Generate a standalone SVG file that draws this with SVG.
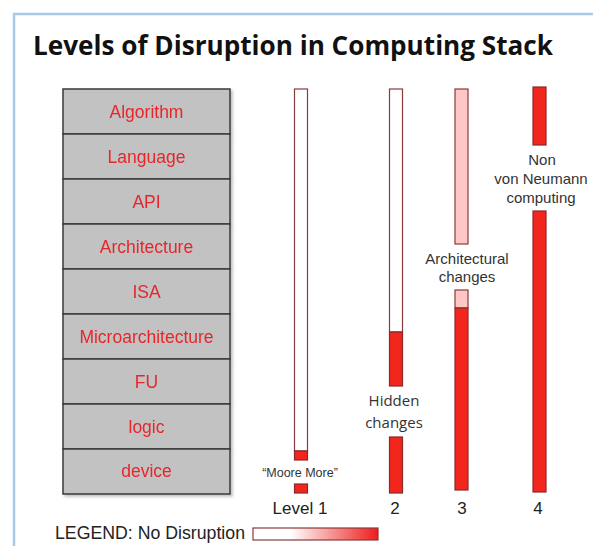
<svg xmlns="http://www.w3.org/2000/svg" width="593" height="546" viewBox="0 0 593 546">
<defs>
<style>
.cell{fill:#c2c2c2;stroke:#3a3a3a;stroke-width:1.5}
.cl{font-family:"Liberation Sans",Arial,sans-serif;font-size:17.5px;fill:#e8262c;text-anchor:middle}
.bw{fill:#ffffff;stroke:#8a3a3a;stroke-width:1.2}
.bp{fill:#ffc6c6;stroke:#8a3a3a;stroke-width:1.2}
.br{fill:#f2261c;stroke:#8a2a2a;stroke-width:1.2}
.lb{font-family:"Liberation Sans",Arial,sans-serif;font-size:15px;fill:#333;text-anchor:middle}
.lv{font-family:"Liberation Sans",Arial,sans-serif;font-size:17px;fill:#222;text-anchor:middle}
.lg{font-family:"Liberation Sans",Arial,sans-serif;font-size:17.5px;fill:#222;text-anchor:start}
</style>
<linearGradient id="lg" x1="0" y1="0" x2="1" y2="0">
<stop offset="0" stop-color="#ffffff"/>
<stop offset="0.3" stop-color="#ffffff"/>
<stop offset="1" stop-color="#ee1c1c"/>
</linearGradient>
<filter id="sh" x="-5%" y="-5%" width="115%" height="115%">
<feDropShadow dx="2" dy="2" stdDeviation="1.5" flood-color="#000" flood-opacity="0.25"/>
</filter>
</defs>
<rect width="593" height="546" fill="#fff"/>
<path d="M14,546 V14 H593" fill="none" stroke="#a9c9e9" stroke-width="2.5"/>
<text x="33" y="55" font-family="'Open Sans','Noto Sans',sans-serif" font-size="26" font-weight="bold" fill="#111" textLength="520" lengthAdjust="spacingAndGlyphs">Levels of Disruption in Computing Stack</text>

<g id="stack" filter="url(#sh)">
<g id="n-algorithm"><rect class="cell" x="63" y="89" width="167" height="45"/><text class="cl" x="146.5" y="118">Algorithm</text></g>
<g id="n-language"><rect class="cell" x="63" y="134" width="167" height="45"/><text class="cl" x="146.5" y="163">Language</text></g>
<g id="n-api"><rect class="cell" x="63" y="179" width="167" height="45"/><text class="cl" x="146.5" y="208">API</text></g>
<g id="n-architecture"><rect class="cell" x="63" y="224" width="167" height="45"/><text class="cl" x="146.5" y="253">Architecture</text></g>
<g id="n-isa"><rect class="cell" x="63" y="269" width="167" height="45"/><text class="cl" x="146.5" y="298">ISA</text></g>
<g id="n-micro"><rect class="cell" x="63" y="314" width="167" height="45"/><text class="cl" x="146.5" y="343">Microarchitecture</text></g>
<g id="n-fu"><rect class="cell" x="63" y="359" width="167" height="45"/><text class="cl" x="146.5" y="388">FU</text></g>
<g id="n-logic"><rect class="cell" x="63" y="404" width="167" height="45"/><text class="cl" x="146.5" y="433">logic</text></g>
<g id="n-device"><rect class="cell" x="63" y="449" width="167" height="45"/><text class="cl" x="146.5" y="477">device</text></g>
</g>

<g id="level1">
<rect class="bw" x="294.5" y="89" width="13" height="362"/>
<rect class="br" x="294.5" y="451" width="13" height="9"/>
<text x="300" y="477" font-family="'Liberation Sans',Arial,sans-serif" font-size="12.5" fill="#333" text-anchor="middle">“Moore More”</text>
<rect class="br" x="294.5" y="484" width="13" height="9"/>
<text class="lv" x="300" y="514">Level 1</text>
</g>

<g id="level2">
<rect class="bw" x="389.5" y="89" width="13" height="243"/>
<rect class="br" x="389.5" y="332" width="13" height="54"/>
<text x="394" y="406" font-family="'Open Sans','Noto Sans',sans-serif" font-size="15" fill="#333" text-anchor="middle">Hidden</text>
<text x="394" y="428" font-family="'Open Sans','Noto Sans',sans-serif" font-size="15" fill="#333" text-anchor="middle">changes</text>
<rect class="br" x="389.5" y="437" width="13" height="56"/>
<text class="lv" x="395" y="514">2</text>
</g>

<g id="level3">
<rect class="bp" x="455" y="89" width="13" height="155"/>
<text class="lb" x="467" y="264">Architectural</text>
<text class="lb" x="467" y="282">changes</text>
<rect class="bp" x="455" y="290" width="13" height="18"/>
<rect class="br" x="455" y="308" width="13" height="182"/>
<text class="lv" x="462" y="514">3</text>
</g>

<g id="level4">
<rect class="br" x="533" y="87" width="13" height="58"/>
<text class="lb" x="542" y="165">Non</text>
<text class="lb" x="541" y="184">von Neumann</text>
<text class="lb" x="541" y="203">computing</text>
<rect class="br" x="533" y="211" width="13" height="281"/>
<text class="lv" x="538" y="514">4</text>
</g>

<g id="legend">
<text class="lg" x="55" y="539" textLength="190" lengthAdjust="spacingAndGlyphs">LEGEND: No Disruption</text>
<rect x="253" y="528" width="125" height="12" fill="url(#lg)" stroke="#8a3a3a" stroke-width="1.2"/>
</g>
<g id="connectors"/>
</svg>
